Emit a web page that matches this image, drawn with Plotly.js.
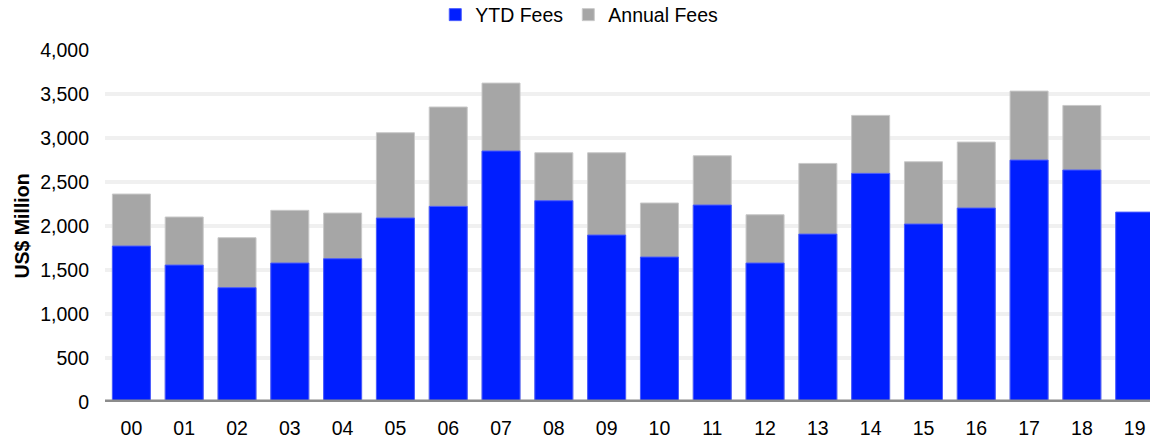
<!DOCTYPE html>
<html>
<head>
<meta charset="utf-8">
<script src="https://cdn.plot.ly/plotly-3.0.1.min.js"></script>
<style>html,body{margin:0;padding:0;background:#fff;}#chart{width:1150px;height:440px;}</style>
</head>
<body>
<div id="chart"></div>
<script>
const years = ["00","01","02","03","04","05","06","07","08","09","10","11","12","13","14","15","16","17","18","19"];
const ytdFees = [1772,1556,1299,1579,1628,2091,2223,2852,2287,1897,1647,2238,1579,1908,2598,2022,2204,2749,2636,2158];
const annualFees = [2363,2102,1867,2178,2147,3060,3352,3624,2832,2832,2261,2798,2128,2711,3257,2730,2954,3533,3370,null];
const yTicks = [0,500,1000,1500,2000,2500,3000,3500,4000];

const font = {family: "Liberation Sans, Arial, sans-serif", size: 19.5, color: "#000"};

const traces = [
  {
    type: "bar", name: "Annual Fees", x: years, y: annualFees,
    marker: {color: "#a6a6a6", line: {color: "#c8c8c8", width: 1}},
    legendrank: 2, hoverinfo: "x+y"
  },
  {
    type: "bar", name: "YTD Fees", x: years, y: ytdFees,
    marker: {color: "#001eff", line: {color: "#4a5cff", width: 1}},
    legendrank: 1, hoverinfo: "x+y"
  }
];

const layout = {
  width: 1150, height: 440,
  margin: {l: 105, r: 0, t: 50, b: 38},
  paper_bgcolor: "#fff", plot_bgcolor: "#fff",
  font: font,
  barmode: "overlay",
  bargap: 0.28,
  showlegend: true,
  legend: {
    orientation: "h", xref: "container", yref: "container",
    x: 0.3785, xanchor: "left", y: 0.966, yanchor: "middle",
    font: font, bgcolor: "rgba(0,0,0,0)", traceorder: "normal"
  },
  xaxis: {
    type: "category", range: [-0.5, 19.29],
    showgrid: false, zeroline: false, showline: false,
    ticks: "", ticklabelstandoff: 12, tickfont: font, fixedrange: true
  },
  yaxis: {
    range: [0, 4000], tickvals: yTicks, tickformat: ",d",
    showgrid: true, gridcolor: "#f0f0f0", gridwidth: 4,
    zeroline: false, showline: false, ticks: "",
    ticklabelstandoff: 15, tickfont: font,
    title: {text: "US$ Million", font: {family: font.family, size: 19.5, color: "#000", weight: "bold"}, standoff: 5},
    fixedrange: true
  },
  shapes: [{
    type: "line", xref: "paper", yref: "y", x0: 0, x1: 1, y0: 0, y1: 0,
    line: {color: "#8c8c8c", width: 5}, layer: "above"
  }]
};

Plotly.newPlot("chart", traces, layout, {displayModeBar: false, staticPlot: true});
</script>
</body>
</html>
